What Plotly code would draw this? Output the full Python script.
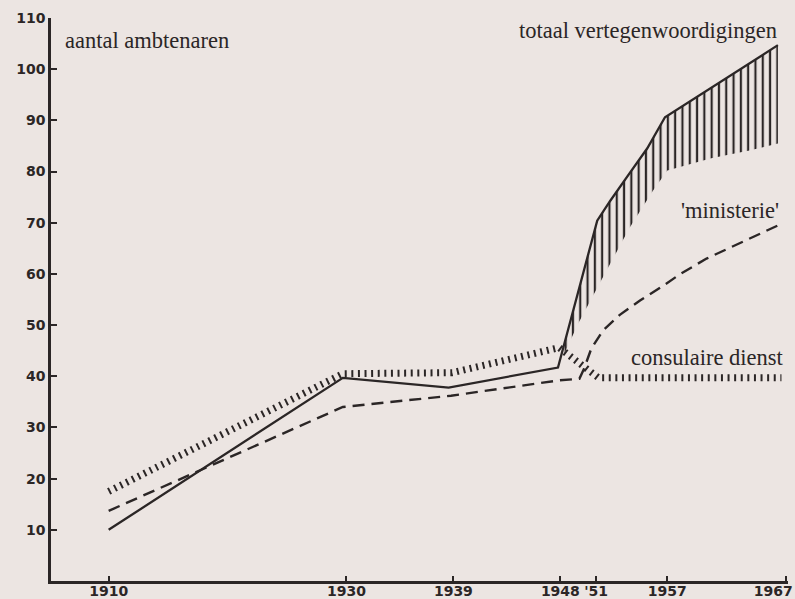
import plotly.graph_objects as go

# ---- data ----
years_total = [1910, 1929.7, 1938.6, 1947.8, 1951.1, 1952.2, 1953.8, 1955.3, 1956.8, 1966.3]
total = [10, 39.7, 37.8, 41.7, 70.4, 74.3, 79.6, 84.5, 90.6, 104.7]

years_hatch_low = [1947.8, 1949.5, 1951.5, 1953.8, 1955.8, 1957.0, 1960.7, 1963.9, 1966.3]
hatch_low = [41.7, 50.3, 59.0, 68.9, 76.3, 80.2, 82.6, 84.1, 85.5]

years_ministerie = [1910, 1929.7, 1938.8, 1947.9, 1949.6, 1950.0, 1950.6, 1951.6, 1953.0,
                    1954.7, 1956.4, 1958.1, 1960.3, 1966.7]
ministerie = [13.7, 34.0, 36.2, 39.2, 39.5, 41.5, 45.4, 49.0, 52.0, 54.8, 57.3, 60.0, 63.0, 69.9]

years_consular = [1910, 1929.7, 1938.9, 1947.9, 1951.2, 1966.6]
consular = [17.5, 40.5, 40.7, 45.6, 39.7, 39.7]

x_tick_vals = [1910, 1930, 1939, 1948, 1951, 1957, 1967]
x_tick_text = ["1910", "1930", "1939", "1948", "'51", "1957", "1967"]
y_tick_vals = [10, 20, 30, 40, 50, 60, 70, 80, 90, 100, 110]
y_tick_text = ["10", "20", "30", "40", "50", "60", "70", "80", "90", "100", "110"]

INK = "#2b2626"
PAPER = "#ece5e2"
SERIF = "Liberation Serif"
SANS = "DejaVu Sans"
TICKFONT = dict(family=SANS, size=14, color=INK, weight="bold")

fig = go.Figure()

# hatched band (lower edge, then upper edge = total line)
start = years_total.index(1947.8)
fig.add_trace(go.Scatter(x=years_hatch_low, y=hatch_low, mode="lines",
                         line=dict(width=0, color="rgba(0,0,0,0)"), hoverinfo="skip"))
fig.add_trace(go.Scatter(x=years_total[start:], y=total[start:], mode="lines",
                         line=dict(width=0, color="rgba(0,0,0,0)"),
                         fill="tonexty", fillcolor="rgba(0,0,0,0)",
                         fillpattern=dict(shape="|", size=7.3, solidity=0.3,
                                          fgcolor=INK, bgcolor="rgba(0,0,0,0)",
                                          fillmode="replace"),
                         hoverinfo="skip"))

# consular service: tick-mark line
fig.add_trace(go.Scatter(x=years_consular, y=consular, mode="lines",
                         line=dict(color=INK, width=7, dash="2px,4.6px"), hoverinfo="skip"))
# ministry: dashed
fig.add_trace(go.Scatter(x=years_ministerie, y=ministerie, mode="lines",
                         line=dict(color=INK, width=2.4, dash="12px,7px"), hoverinfo="skip"))
# total: solid
fig.add_trace(go.Scatter(x=years_total, y=total, mode="lines",
                         line=dict(color=INK, width=2.3), hoverinfo="skip"))

# helper trace for the right-most tick label axis
fig.add_trace(go.Scatter(x=[1967], y=[0], xaxis="x2", mode="markers",
                         marker=dict(opacity=0, size=1), hoverinfo="skip"))

xr = [1905.15, 1967.15]
fig.update_layout(
    width=795, height=599,
    margin=dict(l=51, r=7, t=18, b=18, autoexpand=False),
    paper_bgcolor=PAPER, plot_bgcolor=PAPER,
    showlegend=False, hovermode=False,
    xaxis=dict(range=xr, showgrid=False, zeroline=False, automargin=False,
               showline=True, linecolor=INK, linewidth=2.6,
               ticks="inside", ticklen=5, tickwidth=2, tickcolor=INK,
               tickvals=x_tick_vals[:-1], ticktext=x_tick_text[:-1],
               ticklabelstandoff=-5,
               tickfont=TICKFONT),
    xaxis2=dict(range=xr, overlaying="x", anchor="y", side="bottom",
                showgrid=False, zeroline=False, showline=False, automargin=False,
                ticks="inside", ticklen=5, tickwidth=2, tickcolor=INK,
                tickvals=x_tick_vals[-1:], ticktext=x_tick_text[-1:],
                ticklabelshift=-13, ticklabelstandoff=0,
                tickfont=TICKFONT),
    yaxis=dict(range=[0, 110], showgrid=False, zeroline=False, automargin=False,
               showline=True, linecolor=INK, linewidth=2.6,
               ticks="inside", ticklen=6, tickwidth=2, tickcolor=INK,
               tickvals=y_tick_vals, ticktext=y_tick_text,
               tickfont=TICKFONT),
)

labels = [
    ("aantal ambtenaren", 1906.2, 105.6, "left"),
    ("totaal vertegenwoordigingen", 1966.4, 107.6, "right"),
    ("'ministerie'", 1966.6, 72.4, "right"),
    ("consulaire dienst", 1967.0, 43.6, "right"),
]
for txt, lx, ly, anc in labels:
    fig.add_annotation(text=txt, x=lx, y=ly, xref="x", yref="y",
                       xanchor=anc, yanchor="middle", showarrow=False,
                       font=dict(family=SERIF, size=22.5, color=INK))

fig.write_html("out.html", config={"displayModeBar": False},
               post_script="document.body.style.margin='0';document.body.style.overflow='hidden';")
